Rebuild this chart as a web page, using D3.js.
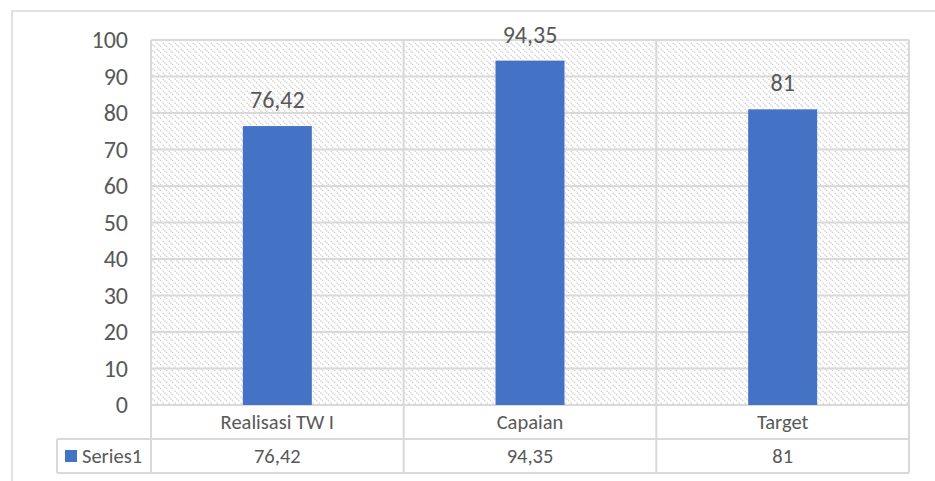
<!DOCTYPE html>
<html>
<head>
<meta charset="utf-8">
<script src="https://cdn.jsdelivr.net/npm/d3@7"></script>
<style>
  html, body { margin: 0; padding: 0; background: #fff; }
  svg { display: block; font-family: Carlito, Calibri, "Open Sans", sans-serif; }
</style>
</head>
<body>
<svg id="d3-svg" width="935" height="481"></svg>
<script>
// --- DATA ---
const categories = ["Realisasi TW I", "Capaian", "Target"];
const values = [76.42, 94.35, 81];
const valueLabels = ["76,42", "94,35", "81"];
const seriesName = "Series1";
const yTicks = [0, 10, 20, 30, 40, 50, 60, 70, 80, 90, 100];

// --- LAYOUT ---
const width = 935, height = 481;
const marginLeft = 151, marginRight = 26, marginTop = 40, plotBottom = 405;
const rowH = 34;
const legendLeft = 57;
const gridColor = "#d9d9d9";
const textColor = "#595959";
const barColor = "#4472c4";

const svg = d3.select("#d3-svg");
svg.selectAll("*").remove();

// hatched plot background
const defs = svg.append("defs");
const pat = defs.append("pattern")
    .attr("id", "hatch")
    .attr("patternUnits", "userSpaceOnUse")
    .attr("width", 6).attr("height", 6);
pat.append("path")
    .attr("d", "M-1,-1L7,7M-1,5L1,7M5,-1L7,1")
    .attr("stroke", "#d0d0d0")
    .attr("stroke-width", 1.4)
    .attr("stroke-dasharray", "1.4,1");

// outer chart frame
svg.append("rect")
    .attr("x", 12).attr("y", 11)
    .attr("width", width + 20).attr("height", height + 20)
    .attr("fill", "#fff")
    .attr("stroke", gridColor).attr("stroke-width", 1.5);

const x = d3.scaleBand()
    .domain(categories)
    .range([marginLeft, width - marginRight])
    .padding(0);

const y = d3.scaleLinear()
    .domain([0, 100])
    .range([plotBottom, marginTop]);

svg.append("rect")
    .attr("x", marginLeft).attr("y", marginTop)
    .attr("width", x.range()[1] - marginLeft)
    .attr("height", plotBottom - marginTop)
    .attr("fill", "url(#hatch)");

// horizontal gridlines
svg.append("g")
    .selectAll("line")
    .data(yTicks)
    .join("line")
        .attr("x1", marginLeft).attr("x2", x.range()[1])
        .attr("y1", d => y(d)).attr("y2", d => y(d))
        .attr("stroke", gridColor).attr("stroke-width", 2);

// vertical lines between categories (through plot + table)
const tableBottom = plotBottom + 2 * rowH;
const vx = categories.map(c => x(c)).concat([x.range()[1]]);
svg.append("g")
    .selectAll("line")
    .data(vx)
    .join("line")
        .attr("x1", d => d).attr("x2", d => d)
        .attr("y1", marginTop).attr("y2", tableBottom)
        .attr("stroke", gridColor).attr("stroke-width", 2);

// table horizontal lines
svg.append("line")
    .attr("x1", legendLeft).attr("x2", x.range()[1])
    .attr("y1", plotBottom + rowH).attr("y2", plotBottom + rowH)
    .attr("stroke", gridColor).attr("stroke-width", 2);
svg.append("line")
    .attr("x1", legendLeft).attr("x2", x.range()[1])
    .attr("y1", tableBottom).attr("y2", tableBottom)
    .attr("stroke", gridColor).attr("stroke-width", 2);
svg.append("line")
    .attr("x1", legendLeft).attr("x2", legendLeft)
    .attr("y1", plotBottom + rowH).attr("y2", tableBottom)
    .attr("stroke", gridColor).attr("stroke-width", 2);

// y tick labels
svg.append("g")
    .selectAll("text")
    .data(yTicks)
    .join("text")
        .attr("x", 128)
        .attr("y", d => y(d))
        .attr("dy", "0.35em")
        .attr("text-anchor", "end")
        .attr("fill", textColor)
        .attr("font-size", 24)
        .text(d => d);

// bars
const barRatio = 0.273;
svg.append("g")
    .selectAll("rect")
    .data(values)
    .join("rect")
        .attr("x", (d, i) => x(categories[i]) + x.bandwidth() * (1 - barRatio) / 2)
        .attr("y", d => y(d))
        .attr("width", x.bandwidth() * barRatio)
        .attr("height", d => y(0) - y(d))
        .attr("fill", barColor);

// data labels
svg.append("g")
    .selectAll("text")
    .data(values)
    .join("text")
        .attr("x", (d, i) => x(categories[i]) + x.bandwidth() / 2)
        .attr("y", d => y(d) - 18)
        .attr("text-anchor", "middle")
        .attr("fill", textColor)
        .attr("font-size", 24)
        .text((d, i) => valueLabels[i]);

// category row
svg.append("g")
    .selectAll("text")
    .data(categories)
    .join("text")
        .attr("x", d => x(d) + x.bandwidth() / 2)
        .attr("y", plotBottom + rowH / 2)
        .attr("dy", "0.35em")
        .attr("text-anchor", "middle")
        .attr("fill", textColor)
        .attr("font-size", 20.5)
        .text(d => d);

// value row
svg.append("g")
    .selectAll("text")
    .data(valueLabels)
    .join("text")
        .attr("x", (d, i) => x(categories[i]) + x.bandwidth() / 2)
        .attr("y", plotBottom + rowH * 1.5)
        .attr("dy", "0.35em")
        .attr("text-anchor", "middle")
        .attr("fill", textColor)
        .attr("font-size", 20.5)
        .text(d => d);

// legend key
svg.append("rect")
    .attr("x", 65).attr("y", plotBottom + rowH * 1.5 - 6)
    .attr("width", 12).attr("height", 12)
    .attr("fill", barColor);
svg.append("text")
    .attr("x", 82)
    .attr("y", plotBottom + rowH * 1.5)
    .attr("dy", "0.35em")
    .attr("fill", textColor)
    .attr("font-size", 20.5)
    .text(seriesName);
</script>
</body>
</html>
